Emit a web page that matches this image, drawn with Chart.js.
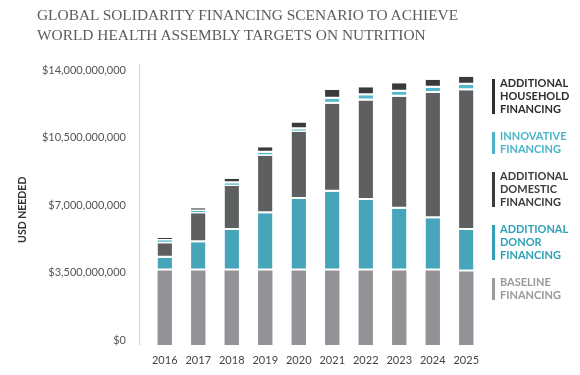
<!DOCTYPE html>
<html>
<head>
<meta charset="utf-8">
<script src="https://cdn.jsdelivr.net/npm/chart.js@4"></script>
<style>
    body { margin: 0; background: #fff; }
    #wrap { position: relative; width: 580px; height: 375px; }
    #title {
        position: absolute; left: 37px; top: 5px; margin: 0;
        font: 15.4px "Liberation Serif", serif; line-height: 20px;
        color: #5c5c5c; font-weight: normal; white-space: nowrap;
    }
    #legend { position: absolute; left: 492px; top: 77px; font: bold 11px Lato, sans-serif; text-transform: uppercase; }
    .item { position: relative; padding-left: 8px; line-height: 12.85px; margin-bottom: 14.5px; }
    .item::before { content: ""; position: absolute; left: 0; top: 2px; bottom: 2px; width: 3px; background: currentColor; }
</style>
</head>
<body>
<div id="wrap">
    <h1 id="title">GLOBAL SOLIDARITY FINANCING SCENARIO TO ACHIEVE<br>WORLD HEALTH ASSEMBLY TARGETS ON NUTRITION</h1>
    <canvas id="chart" width="580" height="375"></canvas>
    <div id="legend"></div>
</div>
<script>
// Years on the x axis
const years = ['2016', '2017', '2018', '2019', '2020', '2021', '2022', '2023', '2024', '2025'];

// Segment values in billions of USD
const baseline   = [3.86, 3.86, 3.86, 3.86, 3.86, 3.86, 3.86, 3.86, 3.86, 3.80];
const donor      = [0.66, 1.46, 2.09, 2.96, 3.70, 4.07, 3.65, 3.19, 2.70, 2.15];
const domestic   = [0.74, 1.50, 2.28, 2.98, 3.48, 4.56, 5.14, 5.80, 6.48, 7.23];
const innovative = [0.16, 0.12, 0.14, 0.15, 0.12, 0.26, 0.27, 0.26, 0.28, 0.29];
const household  = [0.12, 0.14, 0.24, 0.28, 0.35, 0.45, 0.42, 0.44, 0.41, 0.42];

// Y axis ticks (billions)
const yTicks = [0, 3.5, 7, 10.5, 14];

// Series: label, data, bar colour, legend text colour
const series = [
    { label: 'BASELINE FINANCING', data: baseline, color: '#939397', text: '#9a9a9c' },
    { label: 'ADDITIONAL DONOR FINANCING', data: donor, color: '#46a5b9', text: '#2ea1b6' },
    { label: 'ADDITIONAL DOMESTIC FINANCING', data: domestic, color: '#5e5f61', text: '#3c3c3e' },
    { label: 'INNOVATIVE FINANCING', data: innovative, color: '#56b9cb', text: '#4ab5c8' },
    { label: 'ADDITIONAL HOUSEHOLD FINANCING', data: household, color: '#3a3a3c', text: '#2d2d2f' }
];

// thin grey vertical axis line, a little left of the first bar
const axisLine = {
    id: 'axisLine',
    beforeDatasetsDraw(chart) {
        const { ctx, chartArea } = chart;
        ctx.save();
        ctx.strokeStyle = '#d2d2d2';
        ctx.lineWidth = 1;
        ctx.beginPath();
        ctx.moveTo(chartArea.left - 8.5, chartArea.top - 10);
        ctx.lineTo(chartArea.left - 8.5, chartArea.bottom);
        ctx.stroke();
        ctx.restore();
    }
};

new Chart(document.getElementById('chart'), {
    type: 'bar',
    data: {
        labels: years,
        datasets: series.map((s, i) => ({
            label: s.label,
            data: s.data,
            backgroundColor: s.color,
            borderColor: '#fff',
            borderWidth: i === 0 ? 0 : { top: 0, right: 0, bottom: 2, left: 0 },
            borderSkipped: false,
            barPercentage: 0.43,
            categoryPercentage: 1
        }))
    },
    options: {
        responsive: false,
        animation: false,
        layout: { padding: { top: 74.5, left: 16, right: 97, bottom: 0 } },
        plugins: { legend: { display: false }, tooltip: { enabled: false } },
        scales: {
            x: {
                stacked: true,
                grid: { display: false, drawTicks: false },
                border: { display: false },
                ticks: { color: '#444', font: { family: 'Lato', size: 11 }, padding: 9 },
                afterFit: s => { s.height = 30; }
            },
            y: {
                stacked: true,
                min: 0, max: 14,
                afterBuildTicks: s => { s.ticks = yTicks.map(v => ({ value: v })); },
                grid: { display: false, drawTicks: false },
                border: { display: false },
                ticks: {
                    color: '#555', font: { family: 'Lato', size: 11 }, padding: 22, labelOffset: -4.5,
                    callback: v => '$' + Math.round(v * 1e9).toLocaleString('en-US')
                },
                title: { display: true, text: 'USD NEEDED', color: '#333', font: { family: 'Lato', size: 10.5, weight: 'bold' }, padding: 0 },
                afterFit: s => { s.width = 132; }
            }
        }
    },
    plugins: [axisLine]
});

// Legend on the right, top series first, one word per line
const legend = document.getElementById('legend');
series.slice().reverse().forEach(s => {
    const div = document.createElement('div');
    div.className = 'item';
    div.style.color = s.text;
    div.innerHTML = s.label.split(' ').join('<br>');
    legend.appendChild(div);
});
</script>
</body>
</html>
